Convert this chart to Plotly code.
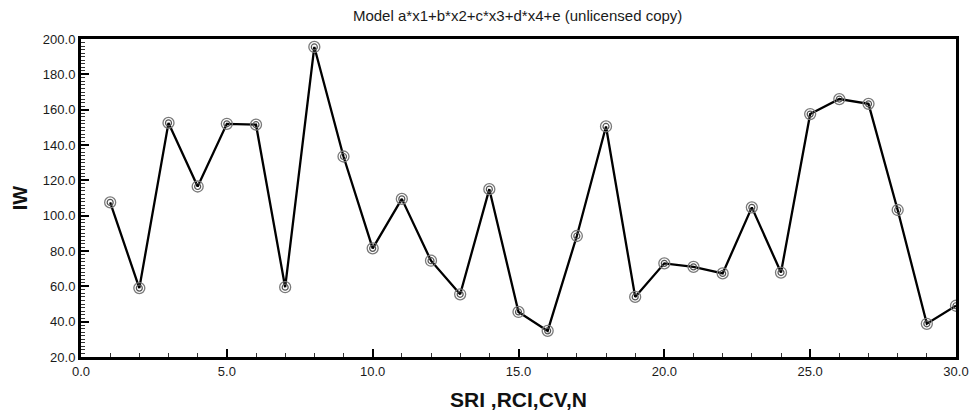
import plotly.graph_objects as go

x_vals = list(range(1, 31))
iw_vals = [107.5, 59.0, 152.5, 116.5, 152.0, 151.5, 59.5, 195.5, 133.5, 81.5,
           109.5, 74.5, 55.5, 115.0, 45.5, 34.8, 88.5, 150.5, 54.0, 73.0,
           71.0, 67.3, 104.7, 67.8, 157.5, 166.0, 163.3, 103.2, 38.8, 49.0]

title_text = "Model a*x1+b*x2+c*x3+d*x4+e (unlicensed copy)"
x_title = "SRI ,RCI,CV,N"
y_title = "IW"

fig = go.Figure()
fig.add_trace(go.Scatter(x=x_vals, y=iw_vals, mode="lines",
                         line=dict(color="black", width=2.3), showlegend=False,
                         hoverinfo="skip"))
fig.add_trace(go.Scatter(x=x_vals, y=iw_vals, mode="markers",
                         marker=dict(symbol="circle-open", size=11,
                                     color="#7a7a7a", line=dict(width=1.3, color="#7a7a7a")),
                         showlegend=False))
fig.add_trace(go.Scatter(x=x_vals, y=iw_vals, mode="markers",
                         marker=dict(symbol="circle-open", size=6,
                                     color="#555555", line=dict(width=1.2, color="#555555")),
                         showlegend=False))

font_fam = "Liberation Sans, Arial, sans-serif"
fig.update_layout(
    width=973, height=416,
    margin=dict(l=81, r=17, t=39, b=59),
    paper_bgcolor="white", plot_bgcolor="white",
    title=dict(text=title_text, x=0.532, xanchor="center", y=0.963, yanchor="middle",
               font=dict(family=font_fam, size=15, color="#1a1a1a")),
    font=dict(family=font_fam, color="#222"),
)
fig.update_xaxes(
    range=[0, 30], tick0=0, dtick=5, tickformat=".1f", automargin=False,
    showline=True, linecolor="black", linewidth=3, mirror=True,
    ticks="inside", ticklen=8, tickwidth=2, tickcolor="black",
    minor=dict(dtick=1, ticks="inside", ticklen=4, tickwidth=1, tickcolor="#333"),
    showgrid=False, zeroline=False,
    tickfont=dict(size=13, family=font_fam, color="#1a1a1a"),
    title=dict(text="<b>" + x_title + "</b>", font=dict(size=21, family=font_fam, color="#111"),
               standoff=15),
)
fig.update_yaxes(
    range=[20, 200], tick0=20, dtick=20, tickformat=".1f", automargin=False,
    showline=True, linecolor="black", linewidth=3, mirror=True,
    ticks="inside", ticklen=8, tickwidth=2, tickcolor="black",
    minor=dict(dtick=2, ticks="inside", ticklen=4, tickwidth=1, tickcolor="#333"),
    showgrid=False, zeroline=False,
    tickfont=dict(size=13, family=font_fam, color="#1a1a1a"),
    title=dict(text="<b>" + y_title + "</b>", font=dict(size=20, family=font_fam, color="#111"),
               standoff=10),
)

fig.write_html("out.html")
